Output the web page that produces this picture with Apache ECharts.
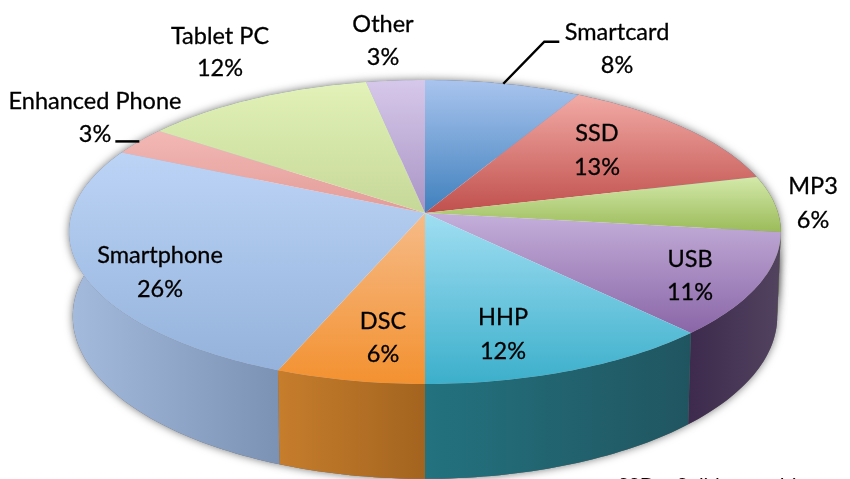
<!DOCTYPE html>
<html>
<head>
<meta charset="utf-8">
<style>html,body{margin:0;padding:0;background:#fff}#c{width:850px;height:479px}</style>
<script src="https://cdn.jsdelivr.net/npm/echarts@6/dist/echarts.min.js"></script>
</head>
<body>
<div id="c"></div>
<script>
const categories = ['Smartcard','SSD','MP3','USB','HHP','DSC','Smartphone','Enhanced Phone','Tablet PC','Other'];
const shares = [8,13,6,11,12,6,26,3,12,3];

// styling, in category order
const topColors = [['#a9c4ee','#3f80bd'],['#f2aaa5','#c0504d'],['#d3e9aa','#9bbb59'],['#c4afda','#8a66a7'],['#a0def2','#3cafcb'],['#f6bb88','#f39130'],['#bcd4f6','#94b2db'],['#f3b8b4','#e29c99'],['#e2f2b8','#c6d898'],['#d6c8ea','#a994c4']];
const wallColors = [['#7b92b5','#7b92b5'],['#7b92b5','#7b92b5'],['#7d9448','#7d9448'],['#3d2a4d','#52435f'],['#23727f','#205560'],['#c67d2c','#a3641f'],['#a5bbdd','#7b92b5'],['#a5bbdd','#a5bbdd'],['#a5bbdd','#a5bbdd'],['#a5bbdd','#a5bbdd']];
// label layout, in category order: centre x, first-line centre y, second-line centre y
const labelPos = [[617,32,65],[597,133,167],[813,186,220],[690,259,292],[503,317,351],[383,321,354],[160,255,289],[95,101,134],[220,36,68],[383,24,57]];
const leaders = {0:[[41,-42],[56,-42]], 7:[[-24,0]]}; // offsets from the slice's rim midpoint

// perspective projection of the pie disc
const P = {cx:425, cy:213, a:353, b:149.6, k:0.125, h:83, bottomScale:0.99};
const total = shares.reduce((s,v)=>s+v,0);
let acc = 0;
const starts = shares.map(v=>{const s=acc; acc+=v; return s;});

function rim(share, drop){
  const t = share/total*Math.PI*2;
  const w = 1+P.k*Math.cos(t);
  const sx = drop?P.bottomScale:1;
  return [P.cx+sx*P.a*Math.sin(t)/w, P.cy-P.b*Math.cos(t)/w+(drop?P.h/w:0)];
}
function arc(from, to, drop){
  const n=Math.max(4,Math.round((to-from)*3)), out=[];
  for(let i=0;i<=n;i++) out.push(rim(from+(to-from)*i/n, drop));
  return out;
}
const grad=(x2,y2,c)=>new echarts.graphic.LinearGradient(0,0,x2,y2,[{offset:0,color:c[0]},{offset:1,color:c[1]}]);
const seriesData = shares.map((v,i)=>({name:categories[i],value:[v,starts[i]]}));
function wallPoints(api){
  const v=api.value(0),s=api.value(1);
  return arc(s,s+v,false).concat(arc(s,s+v,true).reverse());
}

const chart = echarts.init(document.getElementById('c'),null,{renderer:'canvas'});
chart.setOption({
  animation:false,
  backgroundColor:'#fff',
  series:[
    {type:'custom',coordinateSystem:'none',z:0,silent:true,data:seriesData,
     renderItem(p,api){
       return {type:'polygon',shape:{points:wallPoints(api)},
         style:{fill:'#666',shadowBlur:8,shadowColor:'rgba(0,0,0,0.55)',shadowOffsetX:0,shadowOffsetY:0}};
     }},
    {type:'custom',coordinateSystem:'none',z:1,silent:true,data:seriesData,
     renderItem(p,api){
       return {type:'polygon',shape:{points:wallPoints(api)},
         style:{fill:grad(1,0,wallColors[p.dataIndex])}};
     }},
    {type:'custom',coordinateSystem:'none',z:2,silent:true,data:seriesData,
     renderItem(p,api){
       const v=api.value(0),s=api.value(1),i=p.dataIndex;
       const pts=[[P.cx,P.cy]].concat(arc(s,s+v,false));
       return {type:'polygon',shape:{points:pts},style:{fill:grad(0,1,topColors[i])}};
     }},
    {type:'custom',coordinateSystem:'none',z:3,silent:true,data:seriesData,
     renderItem(p,api){
       const v=api.value(0),s=api.value(1),i=p.dataIndex,L=labelPos[i],children=[];
       const font='23.5px Lato';
       const txt={font,fill:'#000',stroke:'#000',lineWidth:0.3,align:'center',verticalAlign:'middle'};
       children.push({type:'text',style:Object.assign({x:L[0],y:L[1],text:categories[i]},txt)});
       children.push({type:'text',style:Object.assign({x:L[0],y:L[2],text:v+'%'},txt)});
       if(leaders[i]){
         const m=rim(s+v/2,false);
         const pts=[m].concat(leaders[i].map(o=>[m[0]+o[0],m[1]+o[1]]));
         children.push({type:'polyline',shape:{points:pts},style:{stroke:'#000',lineWidth:2.5,fill:null}});
       }
       return {type:'group',children};
     }}
  ],
  graphic:[{type:'text',left:618,top:476,z:5,style:{text:'SSD – Solid state drive',font:'20px Lato',fill:'#000'}}]
});
</script>
</body>
</html>
